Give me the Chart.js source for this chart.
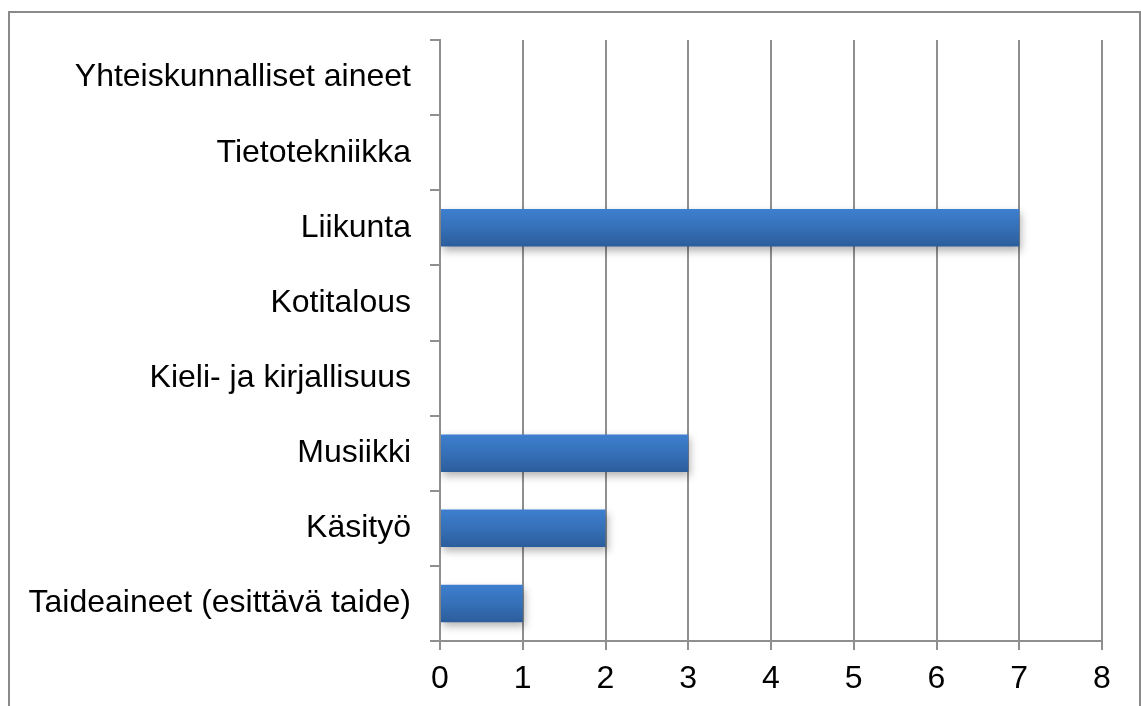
<!DOCTYPE html>
<html>
<head>
<meta charset="utf-8">
<script src="https://cdn.jsdelivr.net/npm/chart.js@4"></script>
<style>
  html, body { margin: 0; padding: 0; background: #fff; }
  #wrap { width: 1141px; height: 706px; }
</style>
</head>
<body>
<div id="wrap"><canvas id="chart" width="1141" height="706"></canvas></div>
<script>
// categories listed top to bottom as they appear in the picture
const categories = [
  'Yhteiskunnalliset aineet',
  'Tietotekniikka',
  'Liikunta',
  'Kotitalous',
  'Kieli- ja kirjallisuus',
  'Musiikki',
  'Käsityö',
  'Taideaineet (esittävä taide)',
];
const counts = [0, 0, 7, 0, 0, 3, 2, 1];
const xTicks = [0, 1, 2, 3, 4, 5, 6, 7, 8];

const GRID = '#8f8f8f';
const FONT = { family: '"Liberation Sans", Arial, sans-serif', size: 32 };

// bar gradient, light on top, dark at the bottom
function barFill(ctx) {
  const chart = ctx.chart;
  const y = chart.scales.y;
  if (!y || ctx.dataIndex == null) return '#3670b8';
  const c = y.getPixelForValue(ctx.dataIndex);
  const half = Math.abs(y.getPixelForValue(1) - y.getPixelForValue(0)) * 0.25;
  if (!isFinite(c) || !isFinite(half) || half === 0) return '#3670b8';
  const g = chart.ctx.createLinearGradient(0, c - half, 0, c + half);
  g.addColorStop(0, '#3d7fcf');
  g.addColorStop(0.5, '#3670b8');
  g.addColorStop(1, '#2b5d9b');
  return g;
}

const shadow = {
  id: 'shadow',
  beforeDatasetsDraw(chart) {
    const c = chart.ctx;
    c.save();
    c.shadowColor = 'rgba(0,0,0,0.3)';
    c.shadowBlur = 8;
    c.shadowOffsetX = 2;
    c.shadowOffsetY = 4;
  },
  afterDatasetsDraw(chart) { chart.ctx.restore(); }
};

const frame = {
  id: 'frame',
  beforeDraw(chart) {
    const c = chart.ctx;
    c.save();
    c.strokeStyle = '#8a8a8a';
    c.lineWidth = 2;
    c.strokeRect(9, 12, 1131, 720);
    c.restore();
  }
};

new Chart(document.getElementById('chart'), {
  type: 'bar',
  data: {
    labels: categories,
    datasets: [{
      data: counts,
      backgroundColor: barFill,
      borderWidth: 0,
      barPercentage: 0.5,
      categoryPercentage: 1,
    }]
  },
  options: {
    indexAxis: 'y',
    responsive: false,
    animation: false,
    layout: { padding: { left: 0, top: 40, right: 39, bottom: 0 } },
    plugins: { legend: { display: false }, tooltip: { enabled: false } },
    scales: {
      x: {
        min: 0, max: 8,
        afterBuildTicks: s => { s.ticks = xTicks.map(v => ({ value: v })); },
        afterFit: s => { s.height = 65; },
        grid: { color: GRID, lineWidth: 2, tickLength: 9, drawTicks: true },
        border: { color: GRID, width: 2 },
        ticks: { color: '#000', font: FONT, padding: 10, maxRotation: 0 },
      },
      y: {
        offset: true,
        afterFit: s => { s.width = 440; },
        grid: { offset: true, drawOnChartArea: false, drawTicks: true, tickLength: 10, color: GRID, lineWidth: 2 },
        border: { color: GRID, width: 2 },
        ticks: { color: '#000', font: FONT, padding: 19, autoSkip: false },
      }
    }
  },
  plugins: [frame, shadow]
});
</script>
</body>
</html>
